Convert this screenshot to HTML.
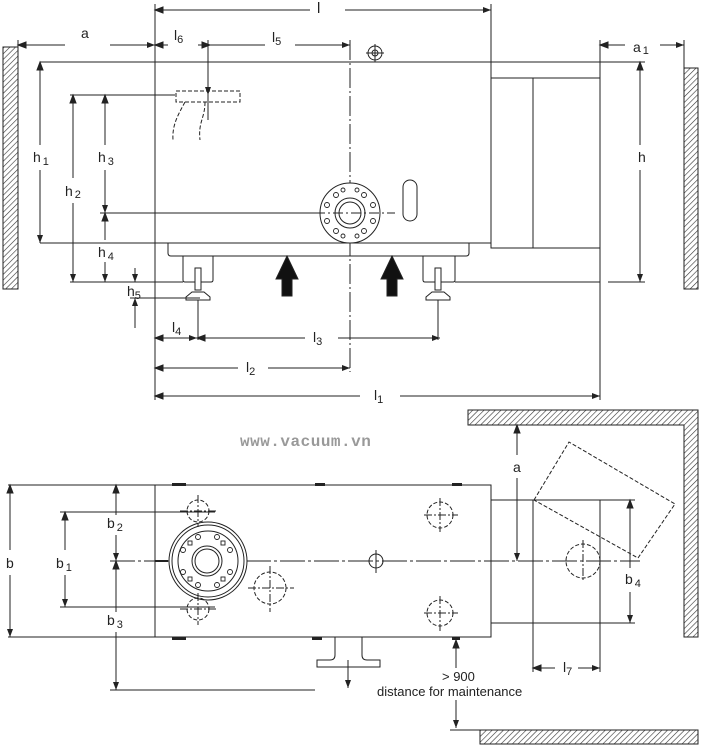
<!DOCTYPE html>
<html><head><meta charset="utf-8"><style>
html,body{margin:0;padding:0;background:#fff;}
svg{display:block;}
text{font-family:"Liberation Sans",sans-serif;fill:#222;}
</style></head><body>
<svg width="703" height="749" viewBox="0 0 703 749" xmlns="http://www.w3.org/2000/svg">
<defs>
<pattern id="h" width="4" height="4" patternUnits="userSpaceOnUse" patternTransform="rotate(45)">
<line x1="0" y1="0" x2="0" y2="4" stroke="#333" stroke-width="1.2"/></pattern>
<marker id="ar" markerWidth="8" markerHeight="6" refX="8" refY="3" orient="auto" markerUnits="userSpaceOnUse"><path d="M0,0 L8,3 L0,6 z" fill="#222"/></marker>
</defs>
<g stroke="#222" stroke-width="1" fill="none">
<rect x="3" y="47" width="15" height="242" fill="url(#h)"/>
<rect x="684" y="68" width="14" height="221" fill="url(#h)"/>
<rect x="155" y="62" width="336" height="181"/>
<rect x="491" y="78" width="109" height="170"/>
<line x1="533" y1="78" x2="533" y2="248"/>
<path d="M168,243 V253 Q168,256 171,256 H466 Q469,256 469,253 V243"/>
<path d="M178,256 H223 M183,256 V280 Q183,282 185,282 H211 Q213,282 213,280 V256"/>
<path d="M418,256 H462 M423,256 V280 Q423,282 425,282 H453 Q455,282 455,280 V256"/>
<path d="M455,282 H600"/>
<g fill="#fff">
<rect x="195" y="268" width="6" height="22"/><path d="M186,297 L192,292 H204 L210,297 V300 H186 z"/>
<rect x="435" y="268" width="6" height="22"/><path d="M426,297 L432,292 H444 L450,297 V300 H426 z"/>
</g>
<line x1="198" y1="300" x2="198" y2="340"/><line x1="438" y1="300" x2="438" y2="340"/>
<path d="M287,256 L298,279 H292 V296 H282 V279 H276 z" fill="#111"/>
<path d="M392,256 L403,279 H397 V296 H387 V279 H381 z" fill="#111"/>
<line x1="155" y1="4" x2="155" y2="400"/>
<line x1="491" y1="4" x2="491" y2="62"/>
<line x1="600" y1="40" x2="600" y2="400"/>
<line x1="684" y1="40" x2="684" y2="68"/>
<line x1="18" y1="40" x2="18" y2="47"/>
<line x1="40" y1="62" x2="155" y2="62"/><line x1="491" y1="62" x2="645" y2="62"/>
<line x1="40" y1="243" x2="155" y2="243"/>
<line x1="70" y1="282" x2="183" y2="282"/><line x1="608" y1="282" x2="645" y2="282"/>
<line x1="70" y1="95" x2="175" y2="95"/>
<line x1="100" y1="213" x2="318" y2="213"/>
<line x1="130" y1="298" x2="200" y2="298"/>
<line x1="350" y1="40" x2="350" y2="372" stroke-dasharray="20,3,2,3"/>
<line x1="155" y1="10" x2="310" y2="10"/><line x1="345" y1="10" x2="491" y2="10" marker-end="url(#ar)"/>
<path d="M163,7 L155,10 L163,13z" fill="#222"/>
<line x1="18" y1="45" x2="65" y2="45"/><line x1="110" y1="45" x2="155" y2="45" marker-end="url(#ar)"/><path d="M26,42 L18,45 L26,48z" fill="#222"/>
<line x1="155" y1="45" x2="168" y2="45"/><line x1="198" y1="45" x2="265" y2="45"/><line x1="295" y1="45" x2="350" y2="45" marker-end="url(#ar)"/>
<path d="M163,42 L155,45 L163,48z M202,42 L210,45 L202,48z" fill="#222"/>
<line x1="208" y1="40" x2="208" y2="95" marker-end="url(#ar)"/>
<line x1="600" y1="45" x2="625" y2="45"/><line x1="660" y1="45" x2="684" y2="45" marker-end="url(#ar)"/><path d="M608,42 L600,45 L608,48z" fill="#222"/>
<line x1="640" y1="62" x2="640" y2="145"/><line x1="640" y1="170" x2="640" y2="282" marker-end="url(#ar)"/><path d="M637,70 L640,62 L643,70z" fill="#222"/>
<line x1="40" y1="62" x2="40" y2="145"/><line x1="40" y1="170" x2="40" y2="243" marker-end="url(#ar)"/><path d="M37,70 L40,62 L43,70z" fill="#222"/>
<line x1="73" y1="95" x2="73" y2="178"/><line x1="73" y1="203" x2="73" y2="282" marker-end="url(#ar)"/><path d="M70,103 L73,95 L76,103z" fill="#222"/>
<line x1="105" y1="95" x2="105" y2="145"/><line x1="105" y1="170" x2="105" y2="213" marker-end="url(#ar)"/><path d="M102,103 L105,95 L108,103z" fill="#222"/>
<line x1="105" y1="213" x2="105" y2="240"/><line x1="105" y1="262" x2="105" y2="282" marker-end="url(#ar)"/><path d="M102,221 L105,213 L108,221z" fill="#222"/>
<line x1="135" y1="268" x2="135" y2="282" marker-end="url(#ar)"/><line x1="135" y1="328" x2="135" y2="298" marker-end="url(#ar)"/>
<line x1="155" y1="338" x2="197" y2="338" marker-end="url(#ar)"/><path d="M163,335 L155,338 L163,341z M205,335 L197,338 L205,341z" fill="#222"/>
<line x1="197" y1="338" x2="305" y2="338"/><line x1="338" y1="338" x2="440" y2="338" marker-end="url(#ar)"/>
<line x1="155" y1="368" x2="238" y2="368"/><line x1="268" y1="368" x2="350" y2="368" marker-end="url(#ar)"/><path d="M163,365 L155,368 L163,371z" fill="#222"/>
<line x1="155" y1="396" x2="360" y2="396"/><line x1="400" y1="396" x2="600" y2="396" marker-end="url(#ar)"/><path d="M163,393 L155,396 L163,399z" fill="#222"/>
<g stroke-dasharray="4,2"><rect x="176" y="91" width="64" height="11"/>
<path d="M185,102 C178,115 172,125 173,140 M205,102 C205,118 198,122 200,140"/></g>
<line x1="208" y1="95" x2="208" y2="120"/>
<circle cx="375" cy="53" r="7"/><circle cx="375" cy="53" r="3"/><line x1="366" y1="53" x2="384" y2="53"/><line x1="375" y1="44" x2="375" y2="62"/>
<rect x="403" y="180" width="14" height="41" rx="7"/>
<circle cx="350" cy="213" r="30" fill="#fff"/>
<circle cx="350" cy="213" r="15"/><circle cx="350" cy="213" r="11"/>
<g stroke-width="0.9">
<circle cx="336" cy="195" r="2.5"/><circle cx="364" cy="195" r="2.5"/><circle cx="327" cy="205" r="2.5"/><circle cx="373" cy="205" r="2.5"/>
<circle cx="327" cy="221" r="2.5"/><circle cx="373" cy="221" r="2.5"/><circle cx="336" cy="231" r="2.5"/><circle cx="364" cy="231" r="2.5"/>
<circle cx="343" cy="190" r="2"/><circle cx="357" cy="190" r="2"/><circle cx="343" cy="236" r="2"/><circle cx="357" cy="236" r="2"/></g>
<line x1="315" y1="213" x2="395" y2="213" stroke-dasharray="10,3,2,3"/>

<path d="M468,410 H698 V637 H684 V425 H468 z" fill="url(#h)"/>
<rect x="480" y="730" width="218" height="14" fill="url(#h)"/>
<rect x="155" y="485" width="336" height="152"/>
<rect x="491" y="500" width="109" height="123"/>
<line x1="533" y1="500" x2="533" y2="623"/>
<line x1="8" y1="485" x2="155" y2="485"/><line x1="8" y1="637" x2="155" y2="637"/>
<line x1="60" y1="512" x2="215" y2="512"/><line x1="60" y1="607" x2="215" y2="607"/>
<line x1="110" y1="690" x2="315" y2="690"/>
<line x1="110" y1="561" x2="640" y2="561" stroke-dasharray="25,3,3,3"/>
<line x1="155" y1="561" x2="168" y2="561" stroke-width="2"/>
<g fill="#222" stroke="none"><rect x="172" y="483" width="14" height="3"/><rect x="315" y="483" width="10" height="3"/><rect x="452" y="483" width="10" height="3"/>
<rect x="172" y="637" width="14" height="3"/><rect x="312" y="637" width="10" height="3"/><rect x="452" y="637" width="8" height="3"/></g>
<path d="M335,637 V655 Q335,660 330,660 H317 V667 H380 V660 H367 Q362,660 362,655 V637"/>
<line x1="348" y1="660" x2="348" y2="688" marker-end="url(#ar)"/>
<circle cx="208" cy="561" r="39" fill="#fff"/><circle cx="208" cy="561" r="36"/><circle cx="208" cy="561" r="30"/>
<circle cx="207" cy="561" r="15"/><circle cx="207" cy="561" r="12"/>
<g stroke-width="0.9"><rect x="188" y="541" width="4" height="4"/><rect x="221" y="541" width="4" height="4"/><rect x="188" y="577" width="4" height="4"/><rect x="221" y="577" width="4" height="4"/>
<circle cx="198" cy="537" r="2.5"/><circle cx="217" cy="537" r="2.5"/><circle cx="183" cy="550" r="2.5"/><circle cx="230" cy="550" r="2.5"/>
<circle cx="183" cy="572" r="2.5"/><circle cx="230" cy="572" r="2.5"/><circle cx="198" cy="585" r="2.5"/><circle cx="217" cy="585" r="2.5"/></g>
<g stroke-dasharray="4,2">
<circle cx="198" cy="511" r="11"/><circle cx="198" cy="609" r="11"/><circle cx="270" cy="588" r="16"/>
<circle cx="440" cy="515" r="13"/><circle cx="440" cy="613" r="13"/><circle cx="583" cy="561" r="17"/>
<path d="M534,500 L569,442 L675,504 L638,558 Z"/>
</g>
<g stroke-dasharray="8,2,2,2">
<line x1="180" y1="511" x2="216" y2="511"/><line x1="198" y1="495" x2="198" y2="527"/>
<line x1="180" y1="609" x2="216" y2="609"/><line x1="198" y1="593" x2="198" y2="625"/>
<line x1="248" y1="588" x2="294" y2="588"/><line x1="270" y1="566" x2="270" y2="612"/>
<line x1="424" y1="515" x2="458" y2="515"/><line x1="440" y1="498" x2="440" y2="532"/>
<line x1="424" y1="613" x2="458" y2="613"/><line x1="440" y1="596" x2="440" y2="631"/>
<line x1="583" y1="540" x2="583" y2="582"/>
</g>
<circle cx="376" cy="561" r="7"/><line x1="376" y1="550" x2="376" y2="573"/>
<line x1="10" y1="485" x2="10" y2="550"/><line x1="10" y1="575" x2="10" y2="637" marker-end="url(#ar)"/><path d="M7,493 L10,485 L13,493z" fill="#222"/>
<line x1="65" y1="512" x2="65" y2="550"/><line x1="65" y1="575" x2="65" y2="607" marker-end="url(#ar)"/><path d="M62,520 L65,512 L68,520z" fill="#222"/>
<line x1="116" y1="485" x2="116" y2="515"/><line x1="116" y1="535" x2="116" y2="561" marker-end="url(#ar)"/><path d="M113,493 L116,485 L119,493z" fill="#222"/>
<line x1="116" y1="561" x2="116" y2="612"/><line x1="116" y1="632" x2="116" y2="690" marker-end="url(#ar)"/><path d="M113,569 L116,561 L119,569z" fill="#222"/>
<line x1="517" y1="425" x2="517" y2="455"/><line x1="517" y1="478" x2="517" y2="561" marker-end="url(#ar)"/><path d="M514,433 L517,425 L520,433z" fill="#222"/>
<line x1="600" y1="500" x2="635" y2="500"/><line x1="600" y1="623" x2="635" y2="623"/>
<line x1="630" y1="500" x2="630" y2="568"/><line x1="630" y1="592" x2="630" y2="623" marker-end="url(#ar)"/><path d="M627,508 L630,500 L633,508z" fill="#222"/>
<line x1="533" y1="623" x2="533" y2="672"/><line x1="600" y1="623" x2="600" y2="672"/>
<line x1="533" y1="668" x2="555" y2="668"/><line x1="578" y1="668" x2="600" y2="668" marker-end="url(#ar)"/><path d="M541,665 L533,668 L541,671z" fill="#222"/>
<line x1="456" y1="640" x2="456" y2="668"/><path d="M453,648 L456,640 L459,648z" fill="#222"/>
<line x1="456" y1="700" x2="456" y2="728" marker-end="url(#ar)"/><line x1="450" y1="730" x2="480" y2="730"/>
</g>
<g font-size="14">
<text x="317" y="13" font-size="15">l</text>
<text x="81" y="38">a</text>
<text x="174" y="40">l<tspan font-size="11" dy="3">6</tspan></text>
<text x="272" y="42">l<tspan font-size="11" dy="3">5</tspan></text>
<text x="633" y="52">a<tspan font-size="11" dx="2" dy="2">1</tspan></text>
<text x="638" y="162">h</text>
<text x="33" y="162">h<tspan font-size="11" dx="2" dy="3">1</tspan></text>
<text x="65" y="196">h<tspan font-size="11" dx="2" dy="2">2</tspan></text>
<text x="98" y="162">h<tspan font-size="11" dx="2" dy="3">3</tspan></text>
<text x="98" y="257">h<tspan font-size="11" dx="2" dy="3">4</tspan></text>
<text x="127" y="296">h<tspan font-size="11" dy="3">5</tspan></text>
<text x="172" y="332">l<tspan font-size="11" dy="3">4</tspan></text>
<text x="313" y="342">l<tspan font-size="11" dy="3">3</tspan></text>
<text x="246" y="372">l<tspan font-size="11" dy="3">2</tspan></text>
<text x="374" y="400">l<tspan font-size="11" dy="3">1</tspan></text>
<text x="240" y="446" font-size="16" font-weight="bold" style="fill:#999;font-family:'Liberation Mono',monospace" letter-spacing="0.5">www.vacuum.vn</text>
<text x="513" y="472">a</text>
<text x="6" y="568">b</text>
<text x="56" y="568">b<tspan font-size="11" dx="2" dy="3">1</tspan></text>
<text x="107" y="528">b<tspan font-size="11" dx="2" dy="3">2</tspan></text>
<text x="107" y="625">b<tspan font-size="11" dx="2" dy="3">3</tspan></text>
<text x="625" y="584">b<tspan font-size="11" dx="2" dy="3">4</tspan></text>
<text x="563" y="672">l<tspan font-size="11" dy="3">7</tspan></text>
<text x="442" y="681" font-size="13">&gt; 900</text>
<text x="377" y="696" font-size="13">distance for maintenance</text>
</g>
</svg>
</body></html>
